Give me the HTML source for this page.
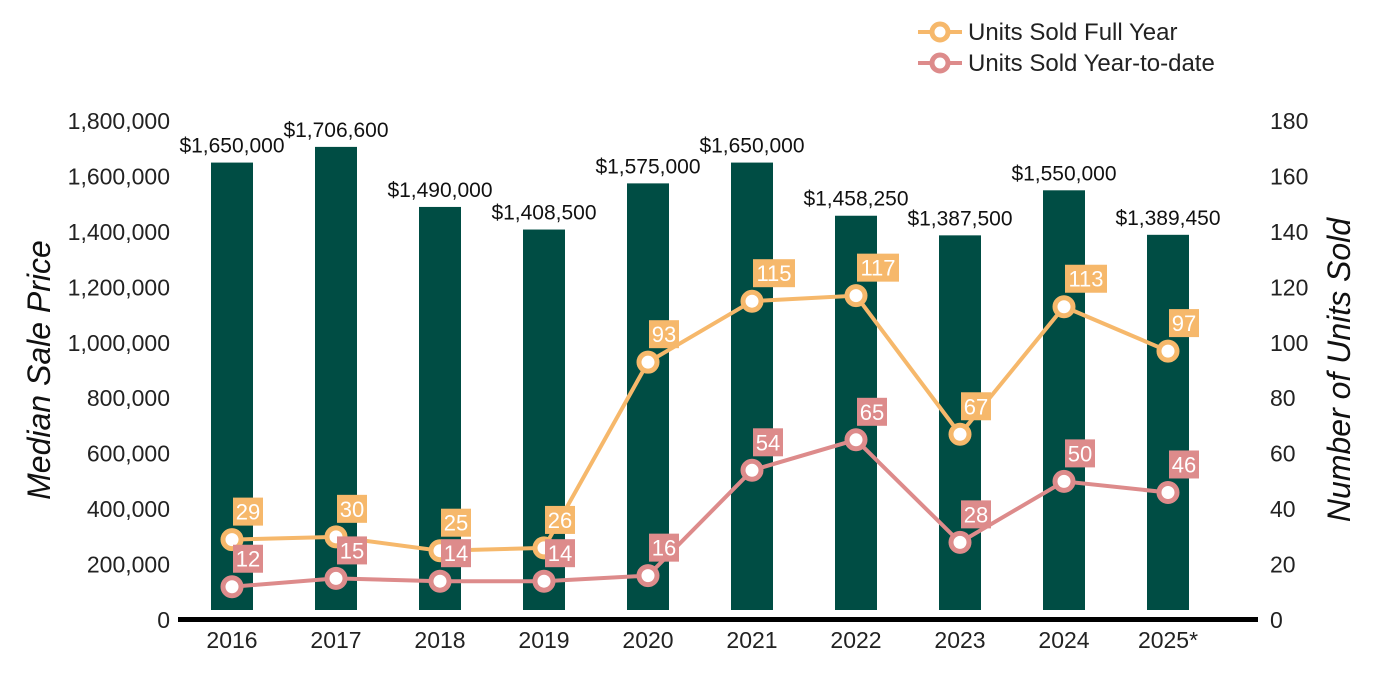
<!DOCTYPE html>
<html><head><meta charset="utf-8"><style>
body{margin:0;background:#fff;}
svg{display:block;font-family:"Liberation Sans",Arial,sans-serif;}
</style></head><body>
<svg id="chart" width="1400" height="700" viewBox="0 0 1400 700"></svg>
<script>
const categories=["2016","2017","2018","2019","2020","2021","2022","2023","2024","2025*"];
const prices=[1650000,1706600,1490000,1408500,1575000,1650000,1458250,1387500,1550000,1389450];
const fullYear=[29,30,25,26,93,115,117,67,113,97];
const ytd=[12,15,14,14,16,54,65,28,50,46];
const leftTicks=[0,200000,400000,600000,800000,1000000,1200000,1400000,1600000,1800000];
const rightTicks=[0,20,40,60,80,100,120,140,160,180];
const NS="http://www.w3.org/2000/svg";
const svg=document.getElementById('chart');
const y0=620,yTop=121;
const yL=v=>y0-v/1800000*(y0-yTop);
const yR=v=>y0-v/180*(y0-yTop);
const xC=i=>232+i*104;
function mk(tag,attrs,txt){const e=document.createElementNS(NS,tag);for(const k in attrs)e.setAttribute(k,attrs[k]);if(txt!==undefined)e.textContent=txt;svg.appendChild(e);return e;}
const fmt=n=>n.toLocaleString('en-US');
leftTicks.forEach(t=>{const e=mk('text',{x:170,y:yL(t)+8,'text-anchor':'end','font-size':23,fill:'#222'},fmt(t));

});
rightTicks.forEach(t=>{const e=mk('text',{x:1270,y:yR(t)+8,'font-size':23,fill:'#222'},String(t));

});
let e=mk('text',{transform:'translate(50,370) rotate(-90)','text-anchor':'middle','font-size':32,'font-style':'italic',fill:'#111'},'Median Sale Price');

e=mk('text',{transform:'translate(1350,370) rotate(-90)','text-anchor':'middle','font-size':32,'font-style':'italic',fill:'#111'},'Number of Units Sold');

prices.forEach((p,i)=>{const b=mk('rect',{x:xC(i)-21,y:yL(p),width:42,height:610-yL(p),fill:'#004d44'});


const t=mk('text',{x:xC(i),y:yL(p)-10,'text-anchor':'middle','font-size':21,fill:'#111'},'$'+fmt(p));

});
e=mk('rect',{x:178,y:617,width:1080,height:5,fill:'#000'});

categories.forEach((c,i)=>{const t=mk('text',{x:xC(i),y:648,'text-anchor':'middle','font-size':23,fill:'#222'},c);

});
function series(vals,color,name){
const l=mk('polyline',{points:vals.map((v,i)=>xC(i)+','+yR(v)).join(' '),fill:'none',stroke:color,'stroke-width':4});


vals.forEach((v,i)=>{const c=mk('circle',{cx:xC(i),cy:yR(v),r:9,fill:'#fff',stroke:color,'stroke-width':5});

});
vals.forEach((v,i)=>{const w=String(v).length>2?42:30;
const r=mk('rect',{x:xC(i)+1,y:yR(v)-42,width:w,height:28,fill:color});


const t=mk('text',{x:xC(i)+1+w/2,y:yR(v)-20,'text-anchor':'middle','font-size':22,fill:'#fff'},String(v));

});
}
series(fullYear,'#f6b86b','full-year');
series(ytd,'#dd8b8b','ytd');
[['Units Sold Full Year','#f6b86b',32],['Units Sold Year-to-date','#dd8b8b',63]].forEach(([n,c,y])=>{
const l=mk('line',{x1:918,x2:962,y1:y,y2:y,stroke:c,'stroke-width':4});


const ci=mk('circle',{cx:940,cy:y,r:8,fill:'#fff',stroke:c,'stroke-width':5});


const t=mk('text',{x:968,y:y+8,'font-size':24,fill:'#222'},n);

});
</script>
</body></html>
